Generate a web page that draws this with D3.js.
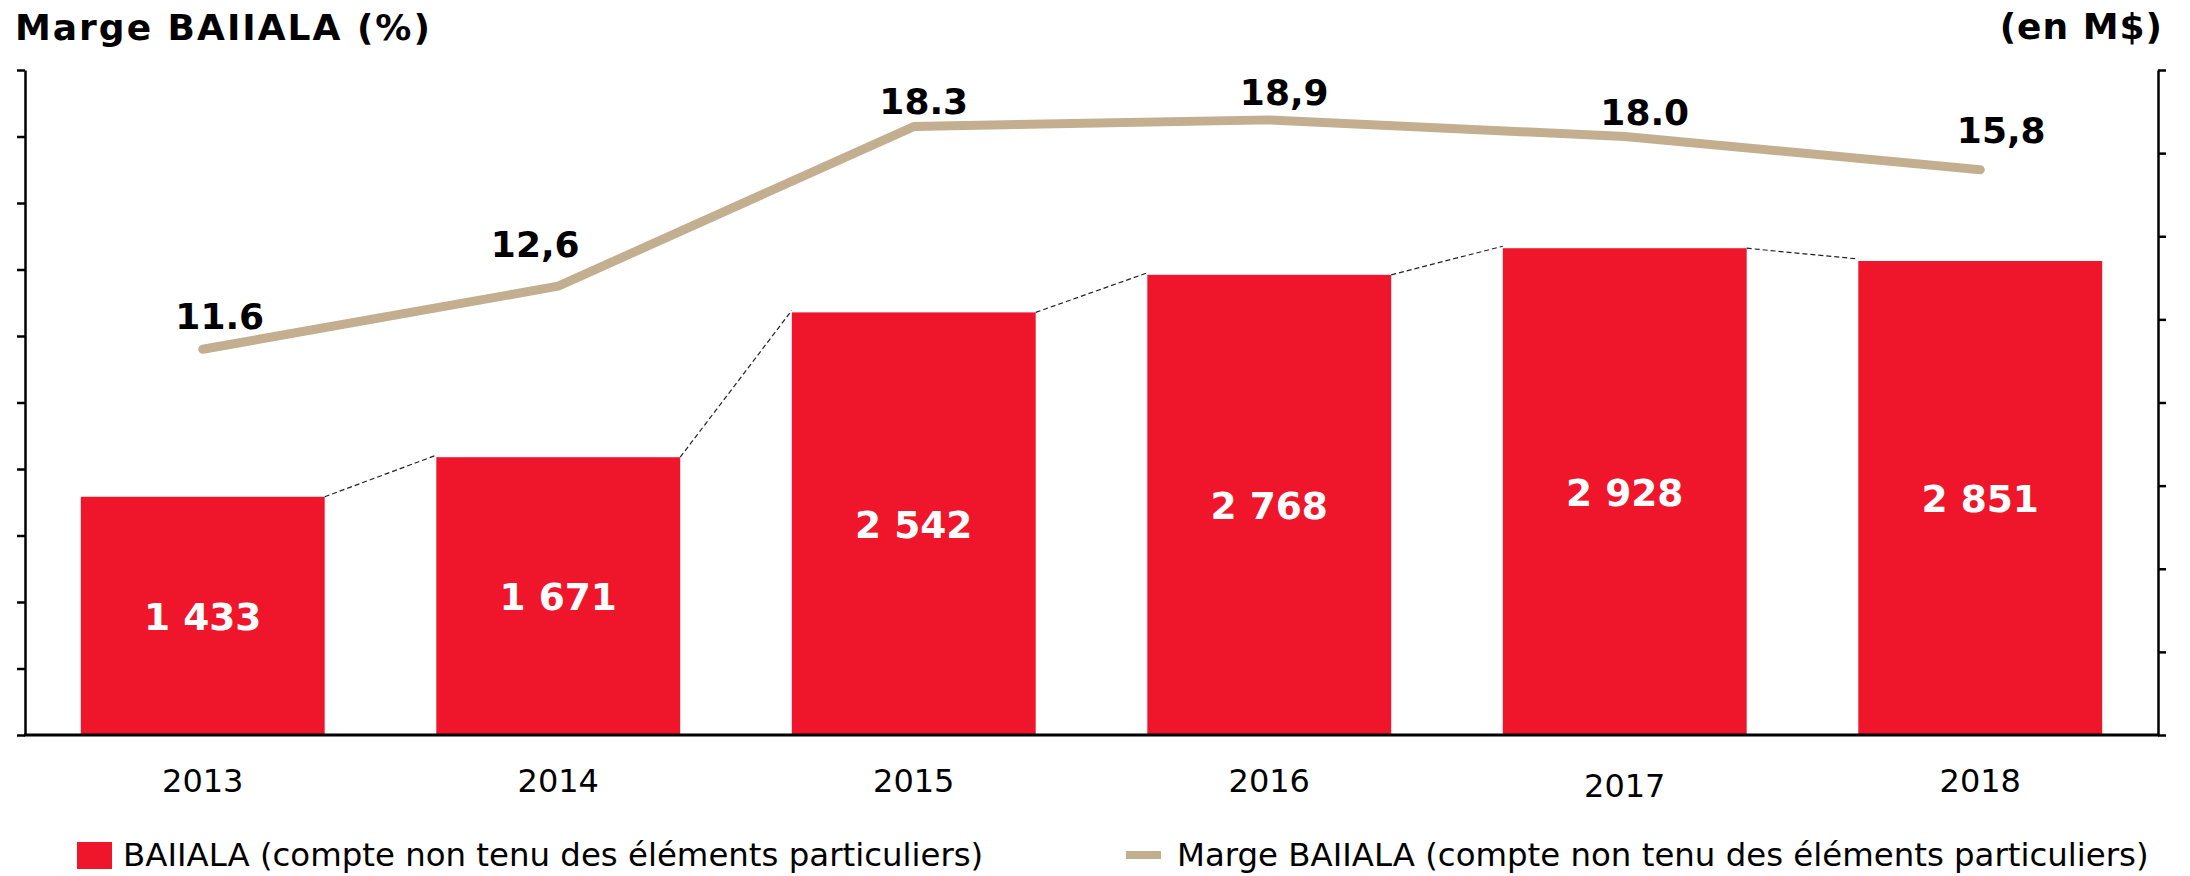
<!DOCTYPE html>
<html>
<head>
<meta charset="utf-8">
<script src="https://cdn.jsdelivr.net/npm/d3@7"></script>
<style>
  body { margin: 0; background: #fff; }
  svg { display: block; font-family: "DejaVu Sans", Verdana, sans-serif; }
</style>
</head>
<body>
<div id="chart"></div>
<script>
// data
const years = ["2013", "2014", "2015", "2016", "2017", "2018"];
const baiiala = [1433, 1671, 2542, 2768, 2928, 2851];
const baiialaLabels = ["1 433", "1 671", "2 542", "2 768", "2 928", "2 851"];
// margin as plotted in the picture, and the labels printed next to it
const marge = [11.6, 13.5, 18.3, 18.5, 18.0, 17.0];
const margeLabels = ["11.6", "12,6", "18.3", "18,9", "18.0", "15,8"];
const legendLabels = [
    "BAIIALA (compte non tenu des éléments particuliers)",
    "Marge BAIIALA (compte non tenu des éléments particuliers)"
];

// layout
const width = 2190, height = 876;
const plot = { left: 25, right: 2158, top: 70, bottom: 735 };
const barColor = "#ef162b";
const lineColor = "#c3ae8f";
// label nudges (dx, dy) relative to each line point
const margeLabelOffsets = [[17, -20], [-23, -29], [10, -13], [15, -15], [20, -12], [21, -27]];
const yearLabelDy = [0, 0, 0, 0, 5, 0];

const svg = d3.select("#chart").append("svg")
    .attr("width", width)
    .attr("height", height);

const x = d3.scaleBand()
    .domain(years)
    .range([plot.left, plot.right])
    .paddingInner(0.314)
    .paddingOuter(0.157);

const yLeft = d3.scaleLinear().domain([0, 20]).range([plot.bottom, plot.top]);
const yRight = d3.scaleLinear().domain([0, 4000]).range([plot.bottom, plot.top]);

// bars
svg.append("g").selectAll("rect")
    .data(years)
    .join("rect")
    .attr("x", d => x(d))
    .attr("y", (d, i) => yRight(baiiala[i]))
    .attr("width", x.bandwidth())
    .attr("height", (d, i) => yRight(0) - yRight(baiiala[i]))
    .attr("fill", barColor);

// dashed connectors between bar tops
svg.append("g").selectAll("line")
    .data(years.slice(0, -1))
    .join("line")
    .attr("x1", d => x(d) + x.bandwidth())
    .attr("y1", (d, i) => yRight(baiiala[i]))
    .attr("x2", (d, i) => x(years[i + 1]))
    .attr("y2", (d, i) => yRight(baiiala[i + 1]) - 2)
    .attr("stroke", "#222")
    .attr("stroke-width", 1.2)
    .attr("stroke-dasharray", "5,3");

// bar value labels
svg.append("g").selectAll("text")
    .data(years)
    .join("text")
    .attr("x", d => x(d) + x.bandwidth() / 2)
    .attr("y", (d, i) => (yRight(baiiala[i]) + yRight(0)) / 2 + 14)
    .attr("text-anchor", "middle")
    .attr("fill", "#fff")
    .style("font-size", "37.5px")
    .style("font-weight", "bold")
    .text((d, i) => baiialaLabels[i]);

// margin line
const line = d3.line()
    .x((d, i) => x(years[i]) + x.bandwidth() / 2)
    .y(d => yLeft(d));

svg.append("path")
    .datum(marge)
    .attr("d", line)
    .attr("fill", "none")
    .attr("stroke", lineColor)
    .attr("stroke-width", 9)
    .attr("stroke-linecap", "round")
    .attr("stroke-linejoin", "round");

svg.append("g").selectAll("text")
    .data(marge)
    .join("text")
    .attr("x", (d, i) => x(years[i]) + x.bandwidth() / 2 + margeLabelOffsets[i][0])
    .attr("y", (d, i) => yLeft(d) + margeLabelOffsets[i][1])
    .attr("text-anchor", "middle")
    .attr("fill", "#000")
    .style("font-size", "36px")
    .style("font-weight", "bold")
    .text((d, i) => margeLabels[i]);

// axes
const leftAxis = svg.append("g")
    .attr("transform", `translate(${plot.left},0)`)
    .call(d3.axisLeft(yLeft).ticks(10).tickSize(8).tickSizeOuter(0).tickFormat(""));

const rightAxis = svg.append("g")
    .attr("transform", `translate(${plot.right},0)`)
    .call(d3.axisRight(yRight).ticks(8).tickSize(8).tickSizeOuter(0).tickFormat(""));

[leftAxis, rightAxis].forEach(g => {
    g.selectAll("path, line").attr("stroke", "#000").attr("stroke-width", 2.5);
});

svg.append("line")
    .attr("x1", plot.left - 1)
    .attr("x2", plot.right + 1)
    .attr("y1", plot.bottom)
    .attr("y2", plot.bottom)
    .attr("stroke", "#000")
    .attr("stroke-width", 3);

// year labels
svg.append("g").selectAll("text")
    .data(years)
    .join("text")
    .attr("x", d => x(d) + x.bandwidth() / 2)
    .attr("y", (d, i) => 792 + yearLabelDy[i])
    .attr("text-anchor", "middle")
    .attr("fill", "#000")
    .style("font-size", "32px")
    .text(d => d);

// titles
svg.append("text")
    .attr("x", 15)
    .attr("y", 40)
    .attr("fill", "#000")
    .style("font-size", "36px")
    .style("font-weight", "bold")
    .style("letter-spacing", "2px")
    .text("Marge BAIIALA (%)");

svg.append("text")
    .attr("x", 2163)
    .attr("y", 39)
    .attr("text-anchor", "end")
    .attr("fill", "#000")
    .style("font-size", "36px")
    .style("font-weight", "bold")
    .style("letter-spacing", "1px")
    .text("(en M$)");

// legend
svg.append("rect")
    .attr("x", 77)
    .attr("y", 842)
    .attr("width", 35)
    .attr("height", 27)
    .attr("fill", barColor);

svg.append("text")
    .attr("x", 123)
    .attr("y", 866)
    .attr("fill", "#000")
    .style("font-size", "32.4px")
    .text(legendLabels[0]);

svg.append("line")
    .attr("x1", 1126)
    .attr("x2", 1161)
    .attr("y1", 855)
    .attr("y2", 855)
    .attr("stroke", lineColor)
    .attr("stroke-width", 8);

svg.append("text")
    .attr("x", 1177)
    .attr("y", 866)
    .attr("fill", "#000")
    .style("font-size", "32.4px")
    .text(legendLabels[1]);
</script>
</body>
</html>
